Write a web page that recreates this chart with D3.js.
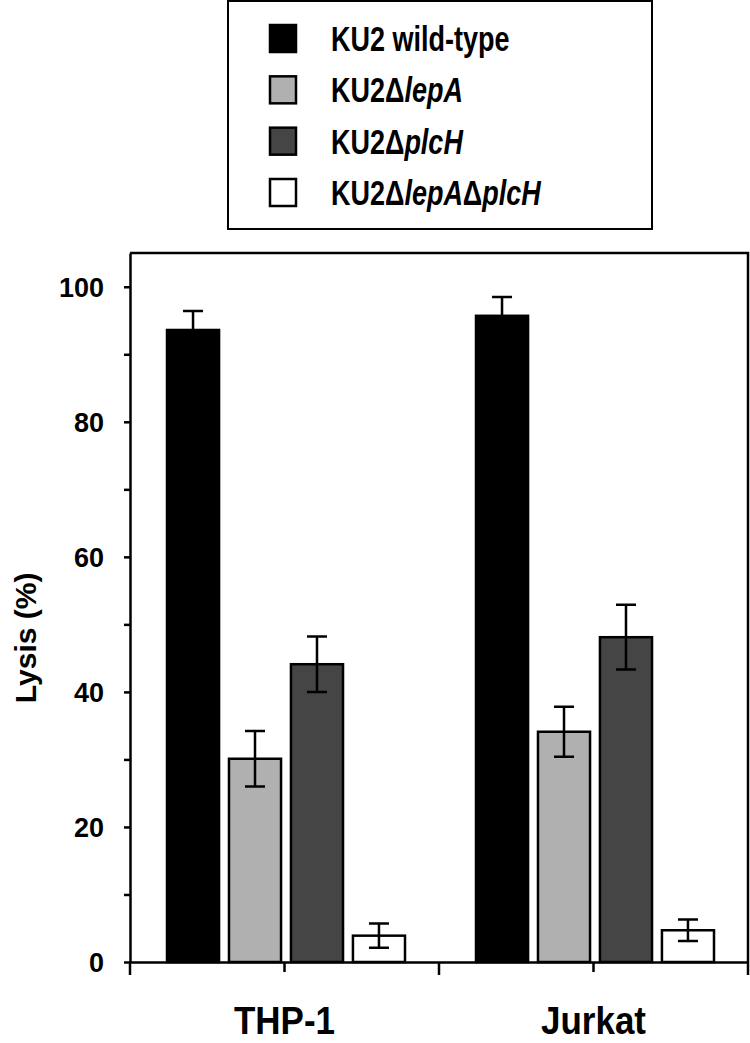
<!DOCTYPE html>
<html>
<head>
  <meta charset="utf-8">
  <title>Lysis bar chart</title>
  <script src="https://cdn.jsdelivr.net/npm/d3@7"></script>
  <style>
    body { margin: 0; background: #fff; }
    svg text { font-family: "Liberation Sans", Arial, sans-serif; font-weight: bold; fill: #000; }
  </style>
</head>
<body>
<svg id="chart" width="750" height="1043"></svg>
<script>
  // data
  var categories = ["THP-1", "Jurkat"];
  var strains = ["wt", "lepA", "plcH", "lepAplcH"];
  var thp1Values = [93.6, 30.1, 44.1, 3.9];
  var thp1Errors = [2.8, 4.1, 4.1, 1.8];
  var jurkatValues = [95.7, 34.1, 48.1, 4.7];
  var jurkatErrors = [2.8, 3.7, 4.8, 1.6];
  var yTicks = [0, 10, 20, 30, 40, 50, 60, 70, 80, 90, 100];

  var fills = ["#000000", "#b0b0b0", "#454545", "#ffffff"];

  var rows = [];
  categories.forEach(function(c, ci) {
    var vals = ci === 0 ? thp1Values : jurkatValues;
    var errs = ci === 0 ? thp1Errors : jurkatErrors;
    strains.forEach(function(s, si) {
      rows.push({cat: c, strain: s, value: vals[si], err: errs[si], fill: fills[si]});
    });
  });

  var svg = d3.select("#chart");

  // scales
  var x = d3.scaleBand().domain(categories).range([130, 748]);
  var xInner = d3.scaleBand().domain(strains).range([37, 275]).paddingInner(0.16);
  var y = d3.scaleLinear().domain([0, 105]).range([962, 253]);

  // frame (top + right)
  svg.append("path")
    .attr("d", "M" + x.range()[0] + "," + y(105) + "H" + x.range()[1] + "V" + y(0))
    .attr("fill", "none").attr("stroke", "#000").attr("stroke-width", 2.5);

  // bars
  var bar = svg.append("g").selectAll("g")
    .data(rows).enter().append("g")
    .attr("transform", function(d) { return "translate(" + (x(d.cat) + xInner(d.strain)) + ",0)"; });

  bar.append("rect")
    .attr("x", 0)
    .attr("y", function(d) { return y(d.value); })
    .attr("width", xInner.bandwidth())
    .attr("height", function(d) { return y(0) - y(d.value); })
    .attr("fill", function(d) { return d.fill; })
    .attr("stroke", "#000").attr("stroke-width", 2.5);

  // error bars
  var bw = xInner.bandwidth();
  bar.append("path")
    .attr("d", function(d) {
      var cx = bw / 2, hi = y(d.value + d.err), lo = y(d.value - d.err);
      return "M" + cx + "," + lo + "V" + hi +
        "M" + (cx - 10) + "," + hi + "H" + (cx + 10) +
        "M" + (cx - 10) + "," + lo + "H" + (cx + 10);
    })
    .attr("fill", "none")
    .attr("stroke", "#000")
    .attr("stroke-width", 2.5);

  // y axis
  var yAxis = svg.append("g")
    .attr("transform", "translate(130,0)")
    .call(d3.axisLeft(y).tickValues(yTicks).tickSize(6).tickSizeOuter(0).tickPadding(20)
      .tickFormat(function(d) { return d % 20 === 0 ? d : ""; }));
  yAxis.select(".domain").attr("stroke-width", 2.5);
  yAxis.selectAll(".tick line").attr("stroke-width", 2.5);
  yAxis.selectAll("text").style("font-size", "27px").attr("dy", "0.36em");

  // x axis
  var xAxis = svg.append("g")
    .attr("transform", "translate(0," + y(0) + ")")
    .call(d3.axisBottom(x).tickSize(10).tickSizeOuter(0).tickPadding(0));
  xAxis.select(".domain").attr("stroke-width", 2.5);
  xAxis.selectAll(".tick line").attr("stroke-width", 2.5);
  xAxis.selectAll("text")
    .attr("y", 0).attr("dy", 0)
    .attr("transform", "translate(0,72) scale(1,1.1)")
    .style("font-size", "35px");
  // boundary ticks between categories
  var bounds = [x.range()[0]].concat(categories.map(function(c) { return x(c) + x.bandwidth(); }));
  xAxis.selectAll(".bound").data(bounds).enter().append("line")
    .attr("x1", function(d) { return d; }).attr("x2", function(d) { return d; })
    .attr("y1", 0).attr("y2", 13)
    .attr("stroke", "#000").attr("stroke-width", 2.5);

  // y title
  svg.append("text")
    .attr("transform", "translate(36," + y(48) + ") rotate(-90)")
    .attr("text-anchor", "middle")
    .style("font-size", "30px")
    .text("Lysis (%)");

  // legend
  var legend = svg.append("g");
  legend.append("rect")
    .attr("x", 228).attr("y", 1).attr("width", 424).attr("height", 228)
    .attr("fill", "#fff").attr("stroke", "#000").attr("stroke-width", 2);

  var legendLabels = [
    [["KU2 wild-type", false]],
    [["KU2\u0394", false], ["lepA", true]],
    [["KU2\u0394", false], ["plcH", true]],
    [["KU2\u0394", false], ["lepA", true], ["\u0394", false], ["plcH", true]]
  ];
  var ly = d3.scalePoint().domain(d3.range(4)).range([38, 192]);

  var item = legend.selectAll(".item").data(legendLabels).enter().append("g")
    .attr("transform", function(d, i) { return "translate(0," + ly(i) + ")"; });
  item.append("rect")
    .attr("x", 270).attr("y", -13).attr("width", 26).attr("height", 27)
    .attr("fill", function(d, i) { return fills[i]; })
    .attr("stroke", "#000").attr("stroke-width", 2.5);
  var t = item.append("text")
    .attr("transform", "translate(331,13) scale(1,1.3)")
    .style("font-size", "27px");
  t.selectAll("tspan").data(function(d) { return d; }).enter().append("tspan")
    .style("font-style", function(d) { return d[1] ? "italic" : "normal"; })
    .text(function(d) { return d[0]; });
</script>
</body>
</html>
